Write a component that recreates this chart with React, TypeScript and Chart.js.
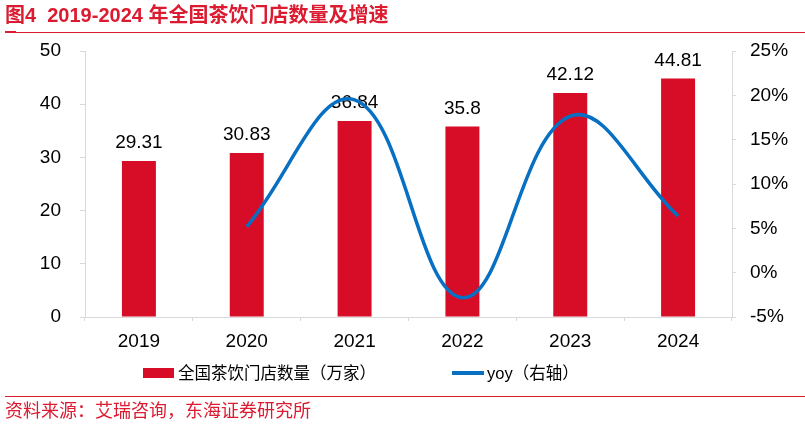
import React, { useEffect, useRef } from "react";
import { Chart, registerables } from "chart.js";

Chart.register(...registerables);

const years = ["2019", "2020", "2021", "2022", "2023", "2024"];
const storeCounts = [29.31, 30.83, 36.84, 35.8, 42.12, 44.81];
const yoyPercent = [null, 5.19, 19.49, -2.82, 17.65, 6.39];
const leftTicks = { min: 0, max: 50, step: 10 };
const rightTicks = { min: -5, max: 25, step: 5 };

const TITLE = "图4  2019-2024 年全国茶饮门店数量及增速";
const SOURCE = "资料来源：艾瑞咨询，东海证券研究所";
const BAR_LABEL = "全国茶饮门店数量（万家）";
const LINE_LABEL = "yoy（右轴）";

const RED = "#D70C26";
const TITLE_RED = "#DC1A30";
const BLUE = "#0870C2";
const AXIS = "#D9D9D9";
const FONT = '"Liberation Sans", Arial, "Noto Sans CJK SC", sans-serif';

const barLabelPlugin = {
  id: "barLabels",
  afterDatasetDraw(chart: any, args: any) {
    if (args.index !== 0) return;
    const ctx = chart.ctx;
    ctx.save();
    ctx.font = `19px ${FONT}`;
    ctx.fillStyle = "#000";
    ctx.textAlign = "center";
    ctx.textBaseline = "alphabetic";
    args.meta.data.forEach((el: any, i: number) => {
      ctx.fillText(String(storeCounts[i]), el.x, el.y - 13);
    });
    ctx.restore();
  },
};

export default function App() {
  const ref = useRef<HTMLCanvasElement | null>(null);

  useEffect(() => {
    if (!ref.current) return;
    const chart = new Chart(ref.current, {
      type: "bar",
      data: {
        labels: years,
        datasets: [
          {
            type: "bar",
            label: BAR_LABEL,
            data: storeCounts,
            backgroundColor: RED,
            borderWidth: 0,
            barPercentage: 0.315,
            categoryPercentage: 1,
            yAxisID: "y",
            order: 2,
          },
          {
            type: "line",
            label: LINE_LABEL,
            data: yoyPercent as any,
            borderColor: BLUE,
            borderWidth: 3.5,
            pointRadius: 0,
            tension: 0.4,
            fill: false,
            spanGaps: false,
            yAxisID: "y1",
            order: 1,
          },
        ],
      },
      options: {
        responsive: false,
        animation: false,
        events: [],
        layout: { padding: { top: 51, bottom: 68, left: 0, right: 0 } },
        plugins: {
          legend: { display: false },
          tooltip: { enabled: false },
        },
        scales: {
          x: {
            offset: true,
            grid: {
              offset: true,
              drawOnChartArea: false,
              drawTicks: true,
              tickLength: 4,
              color: AXIS,
            },
            border: { display: true, color: AXIS, width: 1 },
            ticks: {
              color: "#000",
              font: { family: FONT, size: 19 },
              padding: 9,
              maxRotation: 0,
            },
            afterFit: (s: any) => {
              s.height = 40;
            },
          },
          y: {
            position: "left",
            min: leftTicks.min,
            max: leftTicks.max,
            ticks: {
              stepSize: leftTicks.step,
              color: "#000",
              font: { family: FONT, size: 19 },
              padding: 19,
            },
            grid: {
              drawOnChartArea: false,
              drawTicks: true,
              tickLength: 5,
              color: AXIS,
            },
            border: { display: true, color: AXIS, width: 1 },
            afterFit: (s: any) => {
              s.width = 85;
            },
          },
          y1: {
            position: "right",
            min: rightTicks.min,
            max: rightTicks.max,
            ticks: {
              stepSize: rightTicks.step,
              color: "#000",
              font: { family: FONT, size: 19 },
              padding: 14,
              callback: (v: any) => `${v}%`,
            },
            grid: {
              drawOnChartArea: false,
              drawTicks: true,
              tickLength: 4,
              color: AXIS,
            },
            border: { display: true, color: AXIS, width: 1 },
            afterFit: (s: any) => {
              s.width = 73;
            },
          },
        },
      },
      plugins: [barLabelPlugin],
    } as any);
    return () => chart.destroy();
  }, []);

  return (
    <div
      style={{
        position: "fixed",
        left: 0,
        top: 0,
        width: 805,
        height: 425,
        background: "#fff",
        overflow: "hidden",
        fontFamily: FONT,
      }}
    >
      <canvas
        ref={ref}
        width={805}
        height={425}
        style={{ position: "absolute", left: 0, top: 0, width: 805, height: 425 }}
      />
      <div
        style={{
          position: "absolute",
          left: 5,
          top: 3,
          fontSize: 20,
          fontWeight: "bold",
          color: TITLE_RED,
          whiteSpace: "pre",
          lineHeight: "24px",
        }}
      >
        {TITLE}
      </div>
      <div style={{ position: "absolute", left: 5, top: 32, width: 800, height: 1, background: TITLE_RED }} />
      <div style={{ position: "absolute", left: 5, top: 31, width: 11, height: 2, background: TITLE_RED }} />
      {/* legend */}
      <div style={{ position: "absolute", left: 143, top: 368, width: 31, height: 10, background: RED }} />
      <div
        style={{
          position: "absolute",
          left: 178,
          top: 362,
          fontSize: 16.5,
          lineHeight: "22px",
          color: "#000",
          whiteSpace: "pre",
        }}
      >
        {BAR_LABEL}
      </div>
      <div style={{ position: "absolute", left: 452, top: 371, width: 32, height: 4, background: BLUE }} />
      <div
        style={{
          position: "absolute",
          left: 487,
          top: 362,
          fontSize: 16.5,
          lineHeight: "22px",
          color: "#000",
          whiteSpace: "pre",
        }}
      >
        {LINE_LABEL}
      </div>
      <div style={{ position: "absolute", left: 5, top: 396, width: 800, height: 1, background: TITLE_RED }} />
      <div
        style={{
          position: "absolute",
          left: 5,
          top: 400,
          fontSize: 18,
          lineHeight: "22px",
          color: TITLE_RED,
          whiteSpace: "pre",
        }}
      >
        {SOURCE}
      </div>
    </div>
  );
}
